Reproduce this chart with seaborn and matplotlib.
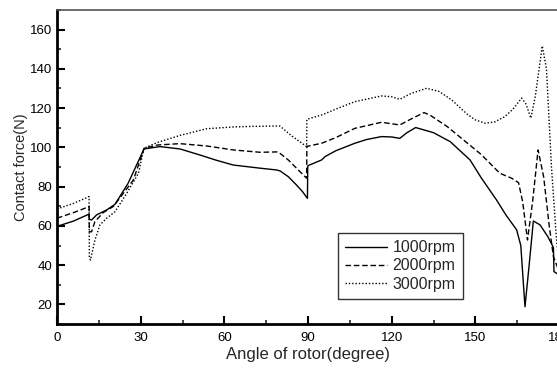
import matplotlib
matplotlib.use("Agg")
import matplotlib.pyplot as plt
from matplotlib.ticker import MultipleLocator
import seaborn as sns
import pandas as pd

# Contact force vs rotor angle for three rotational speeds
angle_1000 = [0, 1, 6, 11.5, 11.6, 12.4, 14.2, 17.8, 20.8, 25.5, 31.2, 36.9, 44.1, 51.3, 57, 63.2,
              72.8, 78.7, 80, 83, 85.9, 88, 89.8, 89.9, 90.5, 94.9, 96.1, 100, 106.8, 111, 116.4,
              120, 122.9, 125.5, 128.6, 135, 141, 148.1, 152.2, 157.6, 161, 164.8, 166.3,
              167.8, 169.3, 170.8, 173.2, 176, 178, 178.2, 180]
force_1000 = [59.6, 60.2, 62.5, 66, 63.4, 63, 65.6, 68.1, 71, 81.7, 99.2, 100.4, 99.2, 96.1, 93.5, 91,
              89.4, 88.5, 88, 85, 80.8, 77.5, 74, 90.5, 91, 93.6, 95.3, 98.3, 102.1, 104, 105.5,
              105.3, 104.6, 107.5, 110.1, 107.5, 102.9, 93.6, 84.3, 73.2, 65.5, 58, 50,
              18.8, 40, 62.5, 60.5, 54.5, 49, 36.7, 35]

angle_2000 = [0, 6, 11.5, 11.6, 12.4, 13.6, 16.6, 20.2, 23.8, 27.4, 31.2, 36, 44.1, 53.7, 63.2,
              72.8, 79.3, 83, 86.5, 89.5, 89.6, 94.9, 100, 106.8, 116.4, 122.9, 127, 131.6,
              133.7, 140, 146, 152, 158.8, 163, 165.5, 167, 168.7, 170.5, 172.5, 174.5, 176.5,
              178, 180]
force_2000 = [63.9, 66.8, 69.8, 57, 57, 62.2, 66.8, 69.9, 76.6, 83.4, 99.5, 101.2, 101.9, 100.7, 98.7,
              97.5, 97.7, 93.5, 88.5, 84.3, 100.5, 102.1, 105, 109.7, 112.8, 111.4, 114.5, 117.7,
              116.5, 110.5, 103.5, 96.5, 86.8, 84.3, 82, 72, 52.8, 72, 98.7, 85, 60,
              44.3, 37]

angle_3000 = [0, 6, 11.5, 11.6, 12, 13.6, 15.4, 17.8, 20.8, 25, 29.2, 31.2, 36, 44.1, 53.7, 63.2,
              70, 79.9, 84, 89.5, 89.6, 94.9, 100, 106.8, 116.4, 120, 122.9, 127, 132.5,
              137, 141.5, 147, 150, 153.5, 157, 160.6, 163.5, 166.6, 168.2, 169.9, 171.5,
              174, 175.5, 177.3, 179, 180]
force_3000 = [68.6, 71.5, 74.9, 44, 42.6, 52.8, 60.5, 63.9, 67.2, 76.6, 86.8, 99.6, 102.5, 106.1, 109.5,
              110.4, 110.7, 110.9, 106, 100.4, 114.3, 116.5, 119.5, 123.3, 126.2, 125.8, 124.5,
              127.5, 130.1, 128.5, 124.2, 117, 114, 112.3, 113, 115.7, 119.5, 125.1, 122,
              114.9, 126, 151.7, 140, 90, 55, 40]

speed_labels = ["1000rpm", "2000rpm", "3000rpm"]
line_styles = ["-", (0, (4, 2)), (0, (1, 1.4))]

series = [(angle_1000, force_1000), (angle_2000, force_2000), (angle_3000, force_3000)]
frames = []
for label, (ang, frc) in zip(speed_labels, series):
    frames.append(pd.DataFrame({"angle": ang, "force": frc, "speed": label}))

sns.set_style("ticks")
plt.rcParams["font.family"] = ["Liberation Sans", "DejaVu Sans"]

fig = plt.figure(figsize=(5.57, 3.68), dpi=100)
ax = fig.add_axes([57 / 557, 1 - 324 / 368, 502 / 557, 314 / 368])

for df, ls in zip(frames, line_styles):
    sns.lineplot(data=df, x="angle", y="force", ax=ax, estimator=None, sort=False,
                 color="black", linewidth=1.0, linestyle=ls, label=df["speed"].iloc[0])

ax.set_xlim(0, 180)
ax.set_ylim(10, 170)
ax.xaxis.set_major_locator(MultipleLocator(30))
ax.xaxis.set_minor_locator(MultipleLocator(15))
ax.yaxis.set_major_locator(MultipleLocator(20))
ax.yaxis.set_minor_locator(MultipleLocator(10))
ax.set_yticks(range(20, 161, 20))
ax.tick_params(which="major", direction="in", length=6, width=1.5, labelsize=9.5, colors="black")
ax.tick_params(which="minor", direction="in", length=3, width=1.2)
ax.tick_params(axis="x", pad=6)

ax.set_xlabel("Angle of rotor(degree)", fontsize=12, labelpad=2)
ax.set_ylabel("Contact force(N)", fontsize=10.5, labelpad=1)

for side in ["left", "bottom"]:
    ax.spines[side].set_linewidth(2)
    ax.spines[side].set_color("black")
ax.spines["top"].set_linewidth(1.2)
ax.spines["top"].set_color("#555555")
ax.spines["right"].set_visible(False)

leg = ax.legend(loc="lower left", bbox_to_anchor=(0.56, 0.08), fontsize=11.5,
                handlelength=2.6, handletextpad=0.35, borderpad=0.45, labelspacing=0.2,
                frameon=True, fancybox=False, edgecolor="black", borderaxespad=0)
leg.get_frame().set_linewidth(1.0)

fig.savefig("out.png", dpi=100)
